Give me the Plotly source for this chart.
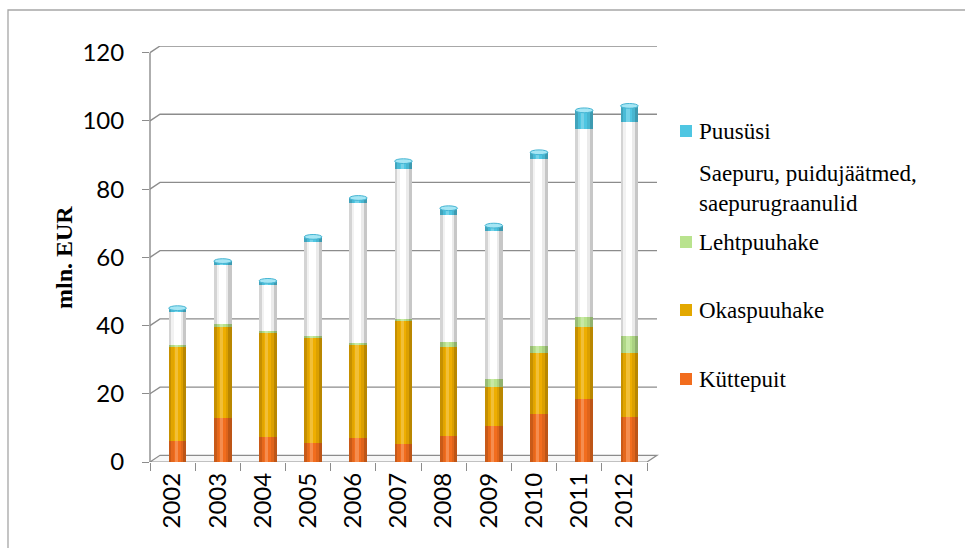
import plotly.graph_objects as go

# ---- data (mln. EUR) ----
years = ["2002", "2003", "2004", "2005", "2006", "2007", "2008", "2009", "2010", "2011", "2012"]
kuttepuit = [6.3, 12.8, 7.3, 5.6, 7.0, 5.4, 7.7, 10.5, 14.1, 18.5, 13.1]
okaspuuhake = [27.3, 26.7, 30.4, 30.7, 27.3, 35.8, 26.1, 11.6, 18.0, 21.2, 19.0]
lehtpuuhake = [0.8, 1.0, 0.8, 0.7, 0.7, 0.6, 1.4, 2.1, 1.9, 2.8, 4.9]
saepuru = [9.5, 17.2, 13.5, 27.6, 40.8, 44.2, 37.3, 43.5, 54.7, 55.0, 62.8]
puususi = [1.2, 1.2, 1.1, 1.4, 1.6, 2.2, 1.9, 1.6, 2.1, 5.6, 4.6]
y_ticks = [0, 20, 40, 60, 80, 100, 120]

series = [
    ("Küttepuit", kuttepuit, "#F26D1E"),
    ("Okaspuuhake", okaspuuhake, "#EEAE00"),
    ("Lehtpuuhake", lehtpuuhake, "#B9E38E"),
    ("Saepuru, puidujäätmed,<br>saepurugraanulid", saepuru, "#FFFFFF"),
    ("Puusüsi", puususi, "#4FC6E2"),
]

# ---- page geometry (pixels) ----
W, H = 965, 548
L, R, T, B = 150, 308, 46, 86
PW, PH = W - L - R, H - T - B
FRONT = 497 / PW          # front plane width as a fraction of the plot area
DX = 10 / PW              # depth offset of the back wall (x)
Y_TOP = 121.96
DY = 6.7 * Y_TOP / PH     # depth offset of the back wall (y, data units)
BAR_W = 0.39


def px_x(px):
    return (px - L) / PW


def px_y(py):
    return (H - B - py) / PH


fig = go.Figure()

# invisible trace that carries the category axis labels
fig.add_trace(go.Scatter(x=years, y=[0] * len(years), mode="markers",
                         marker=dict(opacity=0), xaxis="x", yaxis="y",
                         showlegend=False, hoverinfo="skip"))

# stacked cylinder segments
base = [0.0] * len(years)
for name, vals, color in series:
    fig.add_trace(go.Bar(
        x=years, y=vals, base=list(base), name=name, width=BAR_W,
        marker=dict(color=color, line=dict(width=0)),
        xaxis="x2", yaxis="y", showlegend=False,
    ))
    base = [b + v for b, v in zip(base, vals)]
totals = base

# cylinder shading: soft highlight and darker edges
shades = [
    (-BAR_W / 2, 0.06, "rgba(0,0,0,0.17)"),
    (-BAR_W / 2 + 0.06, 0.05, "rgba(0,0,0,0.05)"),
    (-BAR_W / 2 + 0.13, 0.07, "rgba(255,255,255,0.22)"),
    (BAR_W / 2 - 0.13, 0.06, "rgba(0,0,0,0.08)"),
    (BAR_W / 2 - 0.07, 0.07, "rgba(0,0,0,0.22)"),
]
for off, wid, col in shades:
    fig.add_trace(go.Bar(
        x=years, y=totals, base=[0] * len(years), width=wid, offset=off,
        marker=dict(color=col, line=dict(width=0)),
        xaxis="x2", yaxis="y", showlegend=False, hoverinfo="skip",
    ))

shapes = []
# outer frame
shapes.append(dict(type="path", xref="paper", yref="paper",
                   path=f"M {px_x(8)},{px_y(560)} L {px_x(8)},{px_y(10)} L {px_x(975)},{px_y(10)}",
                   line=dict(color="#A6A6A6", width=1.3), layer="below"))
# floor
shapes.append(dict(type="path", xref="paper", yref="y",
                   path=f"M 0,0 L {DX},{DY} L 1,{DY} L {FRONT},0 Z",
                   fillcolor="#F7F7F7", line=dict(color="#8C8C8C", width=1.2), layer="below"))
# back-wall gridlines with their depth connectors
for v in y_ticks[1:]:
    shapes.append(dict(type="path", xref="paper", yref="y",
                       path=f"M 0,{v} L {DX},{v + DY} L 1,{v + DY}",
                       line=dict(color="#8C8C8C", width=1.4), layer="below"))
# front value axis
shapes.append(dict(type="line", xref="paper", yref="y", x0=0, x1=0, y0=0, y1=y_ticks[-1],
                   line=dict(color="#8C8C8C", width=1.4), layer="below"))
# cylinder top caps
for i, t in enumerate(totals):
    shapes.append(dict(type="circle", xref="x2", yref="y",
                       x0=i - BAR_W / 2, x1=i + BAR_W / 2, y0=t - 0.7, y1=t + 0.7,
                       fillcolor="#A6E6F4", line=dict(color="#45B5D3", width=1)))

# legend drawn as text entries with colour keys
legend_rows = [
    ("Puusüsi", "#4FC6E2", 131),
    ("Saepuru, puidujäätmed,<br>saepurugraanulid", None, 188),
    ("Lehtpuuhake", "#B9E38E", 242),
    ("Okaspuuhake", "#E3A800", 310),
    ("Küttepuit", "#F26D1E", 379),
]
annotations = []
for label, col, yc in legend_rows:
    if col:
        shapes.append(dict(type="rect", xref="paper", yref="paper",
                           x0=px_x(680), x1=px_x(692), y0=px_y(yc + 6), y1=px_y(yc - 6),
                           fillcolor=col, line=dict(width=0)))
    annotations.append(dict(xref="paper", yref="paper", x=px_x(697), y=px_y(yc),
                            xanchor="left", yanchor="middle", align="left", showarrow=False,
                            text=label, font=dict(family="Liberation Serif", size=23, color="black")))

annotations.append(dict(xref="paper", yref="paper", x=px_x(64), y=px_y(258),
                        textangle=-90, showarrow=False, xanchor="center", yanchor="middle",
                        text="<b>mln. EUR</b>",
                        font=dict(family="Liberation Serif", size=24, color="black")))

fig.update_layout(
    width=W, height=H,
    margin=dict(l=L, r=R, t=T, b=B, pad=0),
    paper_bgcolor="white", plot_bgcolor="white",
    barmode="overlay", bargap=0,
    showlegend=False,
    shapes=shapes, annotations=annotations,
    xaxis=dict(type="category", categoryarray=years, categoryorder="array",
               domain=[0, FRONT], range=[-0.5, len(years) - 0.5],
               tickson="boundaries", ticks="outside", ticklen=8, tickcolor="#8C8C8C", tickwidth=1.2,
               tickangle=-90, ticklabelstandoff=5,
               tickfont=dict(family="Lato", size=24, color="black"),
               showgrid=False, showline=False, zeroline=False, fixedrange=True),
    xaxis2=dict(type="category", categoryarray=years, categoryorder="array",
                overlaying="x", anchor="y",
                range=[-0.5 - 0.11, len(years) - 0.5 - 0.11],
                visible=False, fixedrange=True),
    yaxis=dict(range=[0, Y_TOP], tickvals=y_ticks, ticks="outside", ticklen=7,
               tickcolor="#8C8C8C", tickwidth=1.2, ticklabelstandoff=13,
               tickfont=dict(family="Lato", size=24, color="black"),
               showgrid=False, showline=False, zeroline=False, fixedrange=True),
)

fig.write_html("out.html")
